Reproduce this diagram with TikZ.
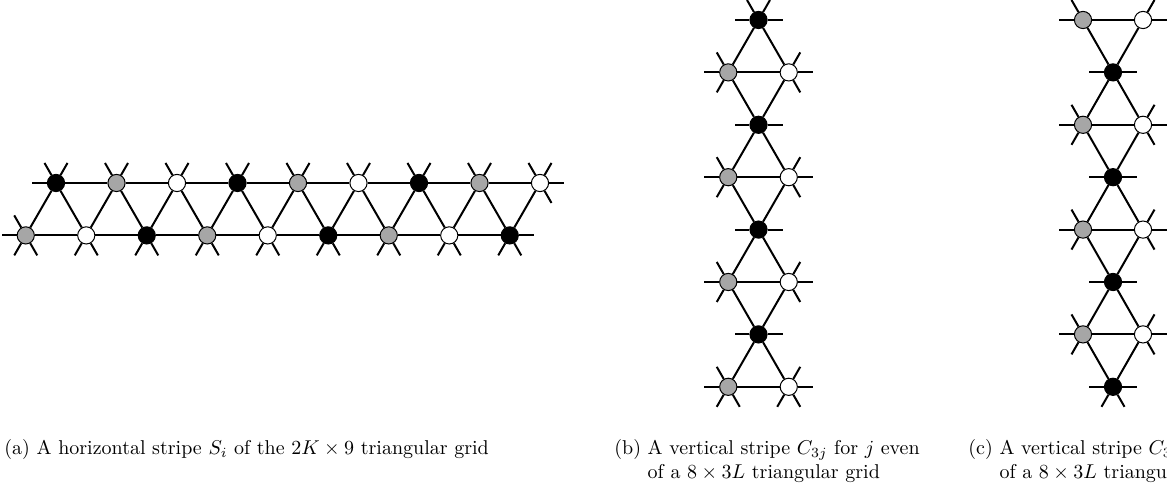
\documentclass[tikz,border=0pt]{standalone}
\usetikzlibrary{positioning}
\tikzset{
    vertex/.style={circle, draw=black, line width=0.5pt, minimum size=8.6pt, inner sep=0pt},
    vblack/.style={vertex, fill=black},
    vgray/.style={vertex, fill=black!35},
    vwhite/.style={vertex, fill=white},
    edge/.style={line width=1pt, black},
    caption/.style={inner sep=0pt, anchor=base west}
}
\begin{document}
\begin{tikzpicture}[x=0.5pt, y=-0.5pt]
    \useasboundingbox (0,0) rectangle (1167,490);
    \clip (0,0) rectangle (1167,490);
    % (a) horizontal stripe
    \foreach \k/\s in {0/vblack,1/vgray,2/vwhite,3/vblack,4/vgray,5/vwhite,6/vblack,7/vgray,8/vwhite}
        \node [\s] (at\k) at (56+60.5*\k,183) {};
    \foreach \k/\s in {0/vgray,1/vwhite,2/vblack,3/vgray,4/vwhite,5/vblack,6/vgray,7/vwhite,8/vblack}
        \node [\s] (ab\k) at (25.75+60.5*\k,235.4) {};
    \foreach \k [count=\n from 1] in {0,...,7} {
        \draw [edge] (at\k) -- (at\n);
        \draw [edge] (ab\k) -- (ab\n);
        \draw [edge] (at\k) -- (ab\n);
    }
    \foreach \k in {0,...,8} {
        \draw [edge] (ab\k) -- (at\k);
        \draw [edge] (at\k) -- ++(-11.5,-20);
        \draw [edge] (at\k) -- ++(11.5,-20);
        \draw [edge] (ab\k) -- ++(-11.5,20);
        \draw [edge] (ab\k) -- ++(11.5,20);
    }
    \draw [edge] (at0) -- ++(-24,0);
    \draw [edge] (at8) -- ++(24,0);
    \draw [edge] (at8) -- ++(11.5,20);
    \draw [edge] (ab0) -- ++(-24,0);
    \draw [edge] (ab0) -- ++(-11.5,-20);
    \draw [edge] (ab8) -- ++(24,0);
    % (b) vertical stripe, j even
    \foreach \k in {0,...,3} {
        \node [vblack] (bk\k) at (758.5,20+104.8*\k) {};
        \node [vgray] (bg\k) at (728.25,72.4+104.8*\k) {};
        \node [vwhite] (bw\k) at (788.75,72.4+104.8*\k) {};
        \draw [edge] (bk\k) -- (bg\k);
        \draw [edge] (bk\k) -- (bw\k);
        \draw [edge] (bg\k) -- (bw\k);
        \draw [edge] (bk\k) -- ++(-24,0);
        \draw [edge] (bk\k) -- ++(24,0);
        \draw [edge] (bg\k) -- ++(-24,0);
        \draw [edge] (bg\k) -- ++(-11.5,-20);
        \draw [edge] (bg\k) -- ++(-11.5,20);
        \draw [edge] (bw\k) -- ++(24,0);
        \draw [edge] (bw\k) -- ++(11.5,-20);
        \draw [edge] (bw\k) -- ++(11.5,20);
    }
    \foreach \k [count=\n from 1] in {0,...,2} {
        \draw [edge] (bg\k) -- (bk\n);
        \draw [edge] (bw\k) -- (bk\n);
    }
    \draw [edge] (bk0) -- ++(-11.5,-20);
    \draw [edge] (bk0) -- ++(11.5,-20);
    \draw [edge] (bg3) -- ++(11.5,20);
    \draw [edge] (bw3) -- ++(-11.5,20);
    % (c) vertical stripe, j odd
    \foreach \k in {0,...,3} {
        \node [vgray] (cg\k) at (1083,20+104.8*\k) {};
        \node [vwhite] (cw\k) at (1143,20+104.8*\k) {};
        \node [vblack] (ck\k) at (1113,72.4+104.8*\k) {};
        \draw [edge] (cg\k) -- (cw\k);
        \draw [edge] (cg\k) -- (ck\k);
        \draw [edge] (cw\k) -- (ck\k);
        \draw [edge] (cg\k) -- ++(-24,0);
        \draw [edge] (cg\k) -- ++(-11.5,-20);
        \draw [edge] (cw\k) -- ++(24,0);
        \draw [edge] (cw\k) -- ++(11.5,-20);
        \draw [edge] (ck\k) -- ++(-24,0);
        \draw [edge] (ck\k) -- ++(24,0);
    }
    \foreach \k [count=\n from 1] in {0,...,2} {
        \draw [edge] (ck\k) -- (cg\n);
        \draw [edge] (ck\k) -- (cw\n);
        \draw [edge] (cg\n) -- ++(-11.5,20);
        \draw [edge] (cw\n) -- ++(11.5,20);
    }
    \draw [edge] (ck3) -- ++(-11.5,20);
    \draw [edge] (ck3) -- ++(11.5,20);
    % captions
    \node [caption] (capa) at (4,455) {(a) A horizontal stripe $S_i$ of the $2K \times 9$ triangular grid};
    \node [caption] (capb) at (614,455) {\begin{tabular}[t]{@{}l@{ }l@{}}(b) & A vertical stripe $C_{3j}$ for $j$ even\\ & of a $8 \times 3L$ triangular grid\end{tabular}};
    \node [caption] (capc) at (968,455) {\begin{tabular}[t]{@{}l@{ }l@{}}(c) & A vertical stripe $C_{3j}$ for $j$ odd\\ & of a $8 \times 3L$ triangular grid\end{tabular}};
\end{tikzpicture}
\end{document}
